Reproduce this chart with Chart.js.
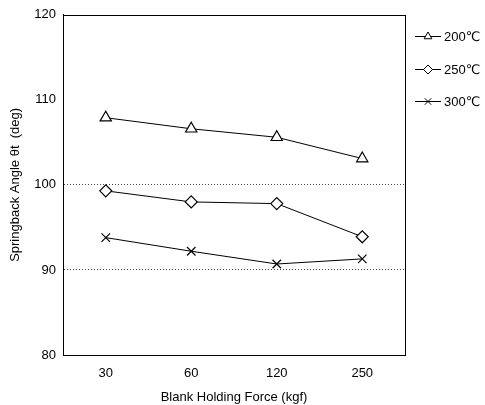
<!DOCTYPE html>
<html><head><meta charset="utf-8">
<script src="https://cdn.jsdelivr.net/npm/chart.js@4/dist/chart.umd.min.js"></script>
<style>html,body{margin:0;padding:0;background:#fff}#wrap{width:485px;height:405px}</style>
</head><body><div id="wrap"><canvas id="c" width="485" height="405"></canvas></div>
<script>
const categories = ["30", "60", "120", "250"];
const series200 = [107.9, 106.6, 105.6, 103.1];
const series250 = [99.3, 98.0, 97.8, 93.9];
const series300 = [93.8, 92.2, 90.7, 91.3];
const seriesNames = ["200\u2103", "250\u2103", "300\u2103"];
const yTicks = [80, 90, 100, 110, 120];
const xTitle = "Blank Holding Force (kgf)";
const yTitle = "Springback Angle \u03B8t  (deg)";

const FONT = "'Liberation Sans', Arial, 'DejaVu Sans', sans-serif";

const frame = {
  id: 'frame',
  afterDatasetsDraw(chart) {
    const {ctx, chartArea: a} = chart;
    ctx.save();
    ctx.strokeStyle = '#000';
    ctx.lineWidth = 1;
    ctx.setLineDash([]);
    ctx.strokeRect(Math.round(a.left) + 0.5, Math.round(a.top) + 0.5, Math.round(a.right - a.left), Math.round(a.bottom - a.top));
    // legend
    const styles = ['triangle', 'rectRot', 'crossRot'];
    const x0 = a.right + 10, x1 = a.right + 36;
    const ys = [36, 69, 101];
    ctx.font = "13px " + FONT;
    ctx.textBaseline = 'middle';
    chart.data.datasets.forEach((ds, i) => {
      const y = ys[i];
      ctx.beginPath();
      ctx.moveTo(x0, y + 0.5); ctx.lineTo(x1, y + 0.5);
      ctx.strokeStyle = '#000'; ctx.lineWidth = 1; ctx.stroke();
      ctx.fillStyle = '#fff';
      Chart.helpers.drawPoint(ctx, {pointStyle: styles[i], radius: 4.5, borderWidth: 1}, (x0 + x1) / 2, y + 0.5);
      ctx.fillStyle = '#000';
      ctx.fillText(ds.label, x1 + 3, y + 1);
    });
    ctx.restore();
  }
};

const mk = (label, data, style, r) => ({
  label, data, borderColor: '#000', borderWidth: 1, backgroundColor: '#fff',
  pointStyle: style, pointRadius: r, pointBorderColor: '#000', pointBackgroundColor: '#fff',
  pointBorderWidth: 1.2, tension: 0
});

new Chart(document.getElementById('c'), {
  type: 'line',
  data: {
    labels: categories,
    datasets: [
      mk(seriesNames[0], series200, 'triangle', 6.5),
      mk(seriesNames[1], series250, 'rectRot', 6),
      mk(seriesNames[2], series300, 'crossRot', 6)
    ]
  },
  options: {
    responsive: false, animation: false,
    layout: {padding: {left: 0, right: 80, top: 8, bottom: 0}},
    plugins: {legend: {display: false}, tooltip: {enabled: false}},
    scales: {
      x: {
        offset: true,
        grid: {display: false, drawTicks: false},
        border: {color: '#000'},
        ticks: {color: '#000', font: {family: FONT, size: 13}, padding: 11},
        title: {display: true, text: xTitle, color: '#000', font: {family: FONT, size: 13}, padding: {top: 3, bottom: 0}},
        afterFit(s) { s.height = 50; }
      },
      y: {
        min: 80, max: 120,
        afterBuildTicks(s) { s.ticks = yTicks.map(v => ({value: v})); },
        grid: {
          drawTicks: false,
          color: c => (c.tick && (c.tick.value === 90 || c.tick.value === 100)) ? '#444' : 'rgba(0,0,0,0)',
          lineWidth: 1
        },
        border: {color: '#000', dash: [1, 2]},
        ticks: {color: '#000', font: {family: FONT, size: 13}, padding: 7},
        title: {display: true, text: yTitle, color: '#000', font: {family: FONT, size: 13}, padding: {top: 8, bottom: 2}},
        afterFit(s) { s.width = 63; }
      }
    }
  },
  plugins: [frame]
});
</script></body></html>
